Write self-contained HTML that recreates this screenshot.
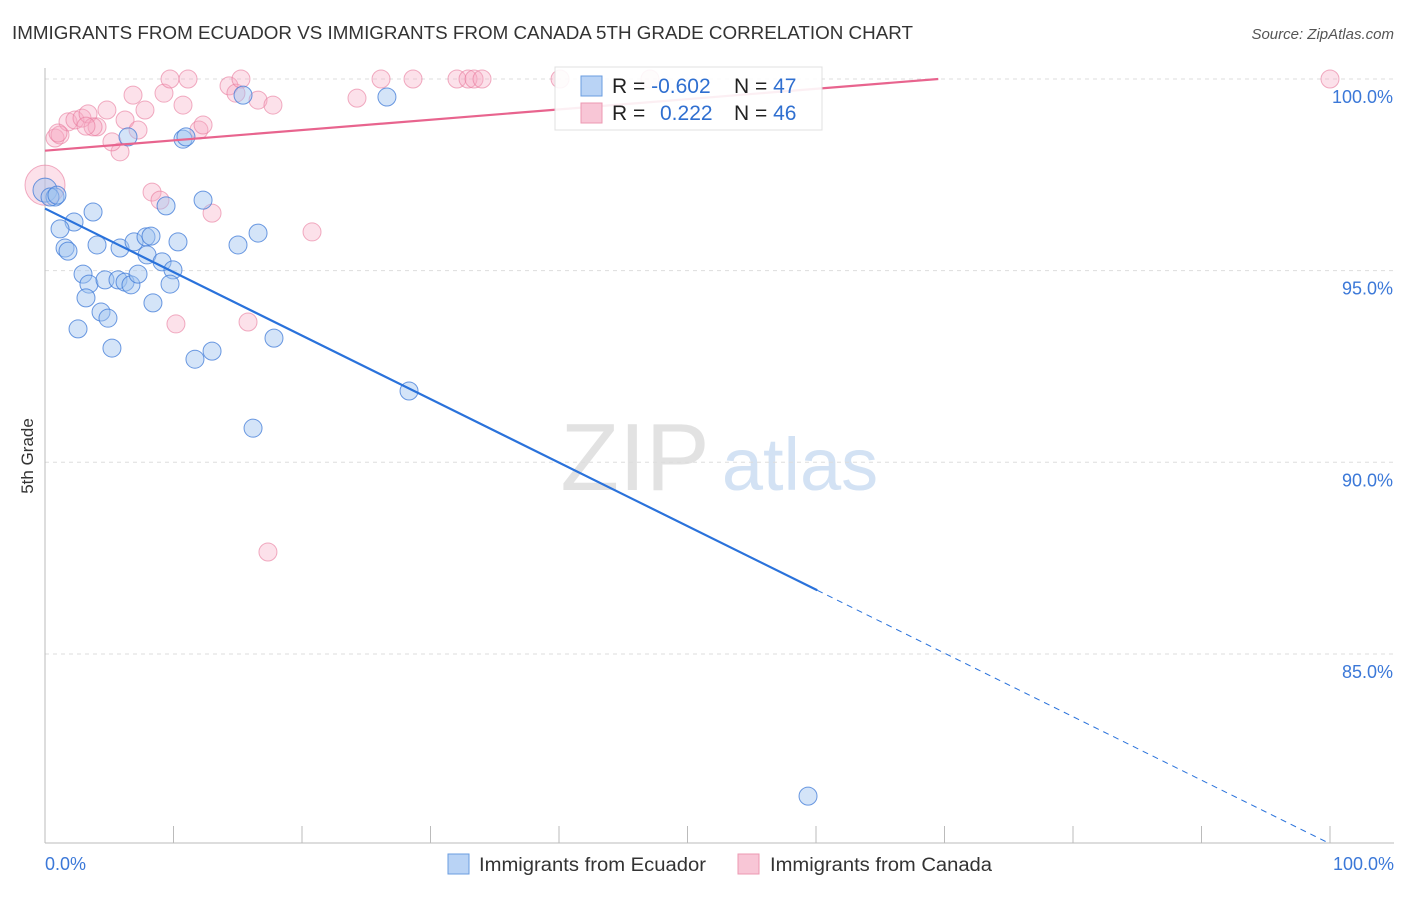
<!DOCTYPE html>
<html><head><meta charset="utf-8"><style>
body{margin:0;background:#fff;font-family:"Liberation Sans",sans-serif}
svg text{font-family:"Liberation Sans",sans-serif}
</style></head><body>
<svg id="chart" width="1406" height="892" viewBox="0 0 1406 892">
<text x="12" y="39" font-size="18" fill="#333" textLength="901" lengthAdjust="spacingAndGlyphs">IMMIGRANTS FROM ECUADOR VS IMMIGRANTS FROM CANADA 5TH GRADE CORRELATION CHART</text>
<text x="1394" y="39" font-size="15" fill="#555" font-style="italic" text-anchor="end">Source: ZipAtlas.com</text>
<text x="33" y="456" font-size="17" fill="#333" transform="rotate(-90 33 456)" text-anchor="middle">5th Grade</text>
<g><text x="635" y="490" font-size="96" fill="#e2e2e2" font-family="Liberation Serif" text-anchor="middle">ZIP</text><text x="800" y="490" font-size="74" fill="#d3e2f4" text-anchor="middle">atlas</text></g>
<g id="grid"></g><g id="axes"></g><g id="marks"></g><g id="lines"></g>
<g>
<rect x="555" y="67" width="267" height="63" fill="#fff" stroke="#ddd" opacity="0.9"/>
<rect x="581" y="76" width="21" height="20" fill="#b9d3f5" stroke="#6a9de0"/>
<rect x="581" y="103" width="21" height="20" fill="#f8c6d6" stroke="#ec98b2"/>
<text x="612" y="93" font-size="21" fill="#222">R = <tspan fill="#2f6fd0">-0.602</tspan></text>
<text x="734" y="93" font-size="21" fill="#222">N = <tspan fill="#2f6fd0">47</tspan></text>
<text x="612" y="120" font-size="21" fill="#222">R = </text><text x="660" y="120" font-size="21" fill="#2f6fd0">0.222</text>
<text x="734" y="120" font-size="21" fill="#222">N = <tspan fill="#2f6fd0">46</tspan></text>
</g>
<g>
<rect x="448" y="854" width="21" height="20" fill="#b9d3f5" stroke="#6a9de0"/>
<text x="479" y="871" font-size="19" fill="#333" textLength="227" lengthAdjust="spacingAndGlyphs">Immigrants from Ecuador</text>
<rect x="738" y="854" width="21" height="20" fill="#f8c6d6" stroke="#ec98b2"/>
<text x="770" y="871" font-size="19" fill="#333" textLength="222" lengthAdjust="spacingAndGlyphs">Immigrants from Canada</text>
</g>
<text x="45" y="870" font-size="18" fill="#3b78d8">0.0%</text>
<text x="1394" y="870" font-size="18" fill="#3b78d8" text-anchor="end">100.0%</text>
</svg>
<script>
const yTicks=[100,95,90,85];
const yTickLabels=["100.0%","95.0%","90.0%","85.0%"];
const blueX=[0,0.78,0.39,3.74,2.26,1.17,1.56,1.79,4.05,5.84,2.96,3.42,3.19,4.36,4.90,2.57,5.21,4.67,5.68,6.23,6.69,7.24,6.93,7.86,8.25,7.94,9.11,9.96,9.73,8.40,10.35,9.42,12.30,11.67,13.0,10.74,10.97,6.46,15.41,26.61,15.02,16.58,17.82,28.33,16.19,59.38,0.93];
const blueY=[97.10,96.92,96.92,96.53,96.27,96.09,95.59,95.51,95.67,95.59,94.91,94.65,94.29,93.92,93.76,93.48,92.98,94.76,94.76,94.70,94.63,94.91,95.75,95.88,95.90,95.41,95.23,95.02,94.65,94.16,95.75,96.69,96.84,92.69,92.90,98.43,98.49,98.49,99.58,99.53,95.67,95.98,93.24,91.86,90.89,81.29,96.97];
const pinkX=[0,0.78,1.17,1.79,2.33,2.88,3.35,4.05,3.74,4.82,5.84,5.21,6.23,6.85,7.24,7.78,8.33,8.95,9.26,9.73,10.74,11.13,11.98,12.30,13.0,14.32,14.86,15.25,16.58,17.74,15.80,10.19,17.35,20.78,24.28,26.15,28.64,32.06,32.92,33.39,34.01,40.08,47.08,100,1.01,3.19];
const pinkY=[97.23,98.46,98.54,98.88,98.93,98.98,99.09,98.75,98.75,99.19,98.10,98.36,98.93,99.58,98.67,99.19,97.05,96.84,99.63,100,99.32,100,98.67,98.80,96.50,99.82,99.63,100,99.45,99.32,93.66,93.61,87.66,96.01,99.50,100,100,100,100,100,100,100,100,100,98.59,98.77];
const blueTrend=[96.62,-0.1657];
const pinkTrend=[98.13,0.0269];
const X=v=>45+v*12.85, Y=v=>79+(100-v)*38.33;
const ns="http://www.w3.org/2000/svg";
function mk(t,a,p){const e=document.createElementNS(ns,t);for(const k in a)e.setAttribute(k,a[k]);document.getElementById(p).appendChild(e);return e;}
yTicks.forEach((t,i)=>{
 const l=mk('line',{x1:45,x2:1394,y1:Y(t),y2:Y(t),stroke:'#ddd','stroke-dasharray':'4 4'},'grid');
 
 
 const tx=mk('text',{x:1393,y:Y(t)+24,'font-size':18,fill:'#3b78d8','text-anchor':'end'},'grid');
 tx.textContent=yTickLabels[i];
 
 
});
const ax=mk('line',{x1:45,x2:45,y1:68,y2:843,stroke:'#bbb'},'axes');


const bx=mk('line',{x1:45,x2:1394,y1:843,y2:843,stroke:'#bbb'},'axes');


for(let i=0;i<=10;i++){const t=mk('line',{x1:X(i*10),x2:X(i*10),y1:826,y2:843,stroke:'#bbb'},'axes');
 
 }
pinkX.forEach((x,i)=>{const c=mk('circle',{cx:X(x),cy:Y(pinkY[i]),r:i==0?20:9,fill:'rgba(246,170,196,0.35)',stroke:'rgba(232,120,155,0.6)','stroke-width':1},'marks');
 
 });
blueX.forEach((x,i)=>{const c=mk('circle',{cx:X(x),cy:Y(blueY[i]),r:i==0?12:9,fill:'rgba(160,196,240,0.45)',stroke:'rgba(60,120,215,0.75)','stroke-width':1},'marks');
 
 });
const bl=mk('line',{x1:X(0),y1:Y(blueTrend[0]),x2:X(60.1),y2:Y(blueTrend[0]+blueTrend[1]*60.1),stroke:'#2a72db','stroke-width':2.2},'lines');


const bd=mk('line',{x1:X(60.1),y1:Y(blueTrend[0]+blueTrend[1]*60.1),x2:X(100),y2:Y(blueTrend[0]+blueTrend[1]*100),stroke:'#2a72db','stroke-width':1,'stroke-dasharray':'6 5'},'lines');


const xe=(100-pinkTrend[0])/pinkTrend[1];
const pl=mk('line',{x1:X(0),y1:Y(pinkTrend[0]),x2:X(xe),y2:Y(100),stroke:'#e8648e','stroke-width':2.2},'lines');


</script>
</body></html>
